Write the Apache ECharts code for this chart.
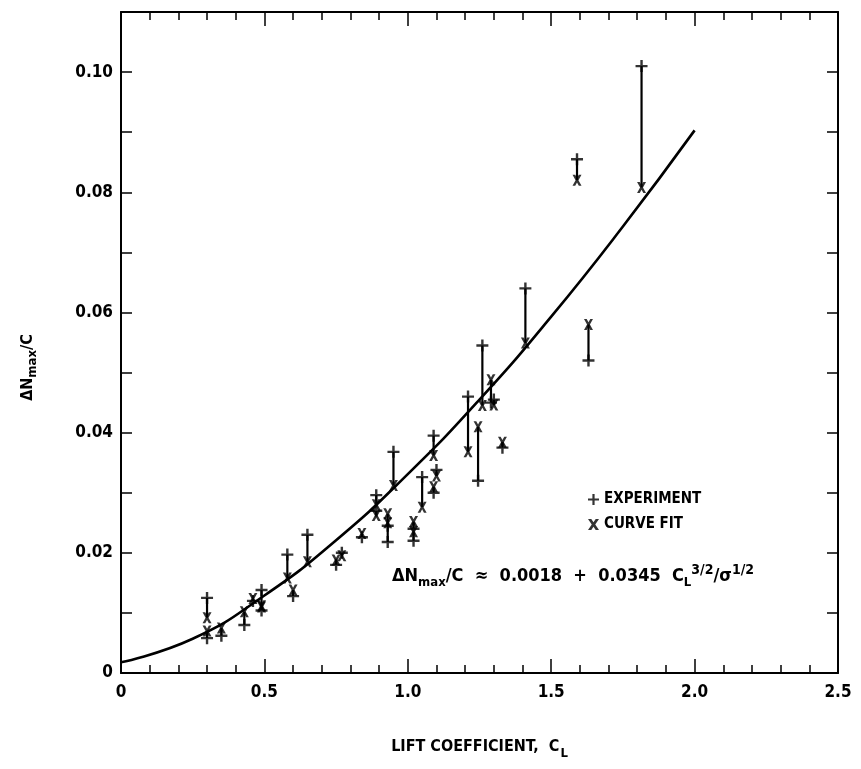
<!DOCTYPE html>
<html>
<head>
<meta charset="utf-8">
<title>Lift coefficient vs ΔNmax/C</title>
<script src="https://cdn.jsdelivr.net/npm/echarts@6/dist/echarts.min.js"></script>
<style>
  html, body { margin: 0; padding: 0; background: #fff; }
  #chart { width: 861px; height: 769px; }
</style>
</head>
<body>
<div id="chart"></div>
<script>
// Lift coefficient of each measured case
const liftCoef = [0.30, 0.30, 0.35, 0.43, 0.46, 0.49, 0.49, 0.58, 0.60, 0.65,
                  0.75, 0.77, 0.84, 0.89, 0.89, 0.93, 0.93, 0.95, 1.02, 1.02,
                  1.05, 1.09, 1.10, 1.09, 1.21, 1.245, 1.26, 1.29, 1.30, 1.33,
                  1.41, 1.59, 1.63, 1.815];
// Measured ΔNmax/C
const experiment = [0.0125, 0.0058, 0.0062, 0.0080, 0.0120, 0.0138, 0.0104, 0.0197, 0.0128, 0.0230,
                    0.0180, 0.0200, 0.0226, 0.0296, 0.0270, 0.0218, 0.0245, 0.0368, 0.0220, 0.0240,
                    0.0326, 0.0395, 0.0338, 0.0300, 0.0460, 0.0320, 0.0545, 0.0450, 0.0455, 0.0375,
                    0.0640, 0.0855, 0.0520, 0.1010];
// Curve-fit ΔNmax/C for the same cases
const curveFit = [0.0092, 0.0070, 0.0075, 0.0102, 0.0124, 0.0112, 0.0110, 0.0158, 0.0138, 0.0185,
                  0.0188, 0.0195, 0.0232, 0.0280, 0.0262, 0.0265, 0.0250, 0.0312, 0.0235, 0.0252,
                  0.0276, 0.0362, 0.0328, 0.0310, 0.0368, 0.0410, 0.0445, 0.0488, 0.0446, 0.0384,
                  0.0549, 0.0820, 0.0580, 0.0808];
// Fitted trend line, sampled along C_L
const trendCL = [0, 0.25, 0.5, 0.75, 1.0, 1.25, 1.5, 1.75, 2.0];
const trendVal = [0.0018, 0.0057, 0.0129, 0.0221, 0.0331, 0.0455, 0.0593, 0.0743, 0.0903];
// Axis tick labels
const xTickLabels = ['0', '0.5', '1.0', '1.5', '2.0', '2.5'];
const yTickLabels = ['0', '0.02', '0.04', '0.06', '0.08', '0.10'];

const FONT = "'Liberation Sans Narrow', 'DejaVu Sans Condensed', 'Liberation Sans', sans-serif";
const INK = '#000';

const plusPath = 'path://M4,0H6V4H10V6H6V10H4V6H0V4H4Z';
const crossPath = 'path://M0,0H3L5,3L7,0H10L6.6,5L10,10H7L5,7L3,10H0L3.4,5Z';

const expData = liftCoef.map((c, i) => [c, experiment[i]]);
const fitData = liftCoef.map((c, i) => [c, curveFit[i]]);
const pairData = liftCoef.map((c, i) => [c, experiment[i], curveFit[i]]);
const trendData = trendCL.map((c, i) => [c, trendVal[i]]);

// frame lines stay on the plot edges instead of snapping to zero
const axisLine = { show: true, onZero: false, lineStyle: { color: INK, width: 2 } };
const xAxisBase = {
  type: 'value', min: 0, max: 2.5, interval: 0.5,
  axisLine: axisLine,
  axisTick: { show: true, inside: true, length: 14, lineStyle: { color: INK, width: 1.5 } },
  minorTick: { show: true, splitNumber: 5, length: 8, lineStyle: { color: INK, width: 1.5 } },
  splitLine: { show: false }
};
const yAxisBase = {
  type: 'value', min: 0, max: 0.11, interval: 0.01,
  axisLine: axisLine,
  axisTick: { show: true, inside: true, length: 11, lineStyle: { color: INK, width: 1.5 } },
  splitLine: { show: false }
};

const chart = echarts.init(document.getElementById('chart'));
chart.setOption({
  animation: false,
  backgroundColor: '#fff',
  grid: { left: 121, right: 23, top: 12, bottom: 96, containLabel: false },
  xAxis: [
    Object.assign({}, xAxisBase, {
      position: 'bottom',
      axisLabel: {
        margin: 11, color: INK, fontFamily: FONT, fontSize: 17, fontWeight: 'bold',
        formatter: v => xTickLabels[Math.round(v / 0.5)]
      },
      name: '{t|LIFT COEFFICIENT,  C}{s|L}',
      nameLocation: 'middle', nameGap: 60,
      nameTextStyle: {
        rich: {
          t: { fontFamily: FONT, fontSize: 16, fontWeight: 'bold', color: INK },
          s: { fontFamily: FONT, fontSize: 13, fontWeight: 'bold', color: INK, padding: [14, 0, 0, 1] }
        }
      }
    }),
    Object.assign({}, xAxisBase, { position: 'top', axisLabel: { show: false } })
  ],
  yAxis: [
    Object.assign({}, yAxisBase, {
      position: 'left',
      axisLabel: {
        margin: 8, color: INK, fontFamily: FONT, fontSize: 17, fontWeight: 'bold',
        formatter: v => {
          const k = Math.round(v * 100);
          return k % 2 === 0 ? yTickLabels[k / 2] : '';
        }
      },
      name: '{t|ΔN}{s|max}{t|/C}',
      nameLocation: 'middle', nameGap: 82, nameRotate: 90,
      nameTextStyle: {
        padding: [0, 50, 0, 0],
        rich: {
          t: { fontFamily: FONT, fontSize: 16, fontWeight: 'bold', color: INK },
          s: { fontFamily: FONT, fontSize: 13, fontWeight: 'bold', color: INK, padding: [10, 0, 0, 0] }
        }
      }
    }),
    Object.assign({}, yAxisBase, { position: 'right', axisLabel: { show: false } })
  ],
  legend: {
    show: true, orient: 'vertical', left: 583, top: 487, itemGap: 10,
    itemWidth: 11, itemHeight: 11,
    data: [
      { name: 'EXPERIMENT', icon: plusPath },
      { name: 'CURVE FIT', icon: crossPath }
    ],
    textStyle: { fontFamily: FONT, fontSize: 15, fontWeight: 'bold', color: INK, padding: [0, 0, 0, 0] },
    selectedMode: false
  },
  graphic: [{
    type: 'text', left: 392, top: 563, silent: true,
    style: {
      text: '{t|ΔN}{s|max}{t|/C  ≈  0.0018  +  0.0345  C}{s|L}{p|3/2}{t|/σ}{p|1/2}',
      rich: {
        t: { fontFamily: FONT, fontSize: 18, fontWeight: 'bold', fill: INK },
        s: { fontFamily: FONT, fontSize: 13, fontWeight: 'bold', fill: INK, padding: [12, 0, 0, 0] },
        p: { fontFamily: FONT, fontSize: 14, fontWeight: 'bold', fill: INK, padding: [0, 0, 13, 0] }
      }
    }
  }],
  series: [
    {
      name: 'trend', type: 'line', data: trendData, smooth: 0.5, showSymbol: false,
      lineStyle: { color: INK, width: 2.6 }, z: 2, silent: true
    },
    {
      name: 'pairs', type: 'custom', data: pairData, z: 3, silent: true,
      renderItem: (params, api) => {
        const a = api.coord([api.value(0), api.value(1)]);
        const b = api.coord([api.value(0), api.value(2)]);
        return {
          type: 'line',
          shape: { x1: a[0], y1: a[1], x2: b[0], y2: b[1] },
          style: { stroke: INK, lineWidth: 2.2 }
        };
      },
      encode: { x: 0, y: [1, 2] }
    },
    {
      name: 'EXPERIMENT', type: 'scatter', data: expData, symbol: plusPath, symbolSize: 12,
      itemStyle: { color: INK }, z: 4
    },
    {
      name: 'CURVE FIT', type: 'scatter', data: fitData, symbol: crossPath, symbolSize: [9, 11],
      itemStyle: { color: INK }, z: 4
    }
  ]
});
</script>
</body>
</html>
